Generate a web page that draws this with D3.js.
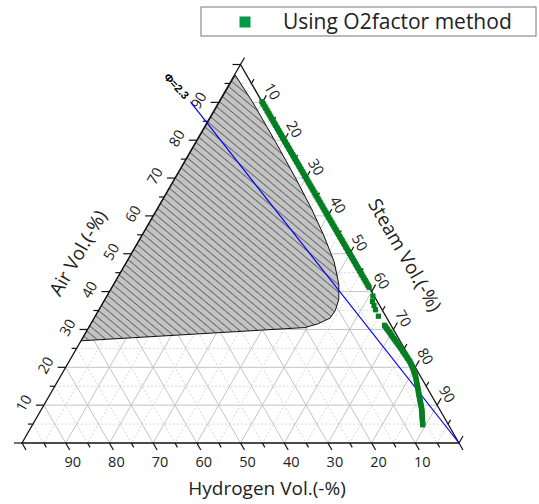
<!DOCTYPE html>
<html>
<head>
<meta charset="utf-8">
<script src="https://cdn.jsdelivr.net/npm/d3@7"></script>
<style>
  body { margin: 0; background: #fff; }
  text { font-family: "Open Sans", sans-serif; fill: #222; }
</style>
</head>
<body>
<div id="chart"></div>
<script>
// tick labels
const hydrogenLabels = [90, 80, 70, 60, 50, 40, 30, 20, 10]
const airLabels = [10, 20, 30, 40, 50, 60, 70, 80, 90]
const steamLabels = [10, 20, 30, 40, 50, 60, 70, 80, 90]

// flammable region (air %, hydrogen %), rest is steam
const regionAir = [97.2, 90, 80, 70, 62, 55, 48, 42, 38, 35, 33, 31.5, 30.5, 27]
const regionHydrogen = [2.6, 2.2, 2.2, 2.4, 2.8, 3.5, 4.6, 6.5, 8.5, 10.8, 13.0, 16.5, 20, 73]

// phi = 2.3 line (air %, hydrogen %)
const phiAir = [0, 90.1]
const phiHydrogen = [0, 16.4]

// O2factor method points on the air-steam edge (hydrogen 0), steam %
const o2EdgeSteam = [
  9.8, 10.3, 10.7, 11.2, 11.6, 12.1, 12.5, 13.0, 13.4, 13.9, 14.3, 14.8, 15.2, 15.7,
  16.1, 16.6, 17.0, 17.5, 17.9, 18.4, 18.8, 19.3, 19.7, 20.2, 20.6, 21.1, 21.5, 22.0,
  22.4, 22.9, 23.3, 23.8, 24.2, 24.7, 25.1, 25.6, 26.0, 26.5, 26.9, 27.4, 27.8, 28.3,
  28.7, 29.2, 29.6, 30.1, 30.5, 31.0, 31.4, 31.9, 32.3, 32.8, 33.2, 33.7, 34.1, 34.6,
  35.0, 35.5, 35.9, 36.4, 36.8, 37.3, 37.7, 38.2, 38.6, 39.1, 39.5, 40.0, 40.4, 40.9,
  41.3, 41.8, 42.2, 42.7, 43.1, 43.6, 44.0, 44.5, 44.9, 45.4, 45.8, 46.3, 46.7, 47.2,
  47.6, 48.1, 48.5, 49.0, 49.4, 49.9, 50.3, 50.8, 51.2, 51.7, 52.1, 52.6, 53.0, 53.5,
  53.9, 54.4, 54.8, 55.3, 55.7, 56.2, 56.6, 57.1, 57.5, 58.0, 58.4, 58.9
]

// O2factor method points inside the triangle (steam %, hydrogen %)
const o2InnerSteam = [
  60.9, 61.5, 62.4, 63.3, 64.8,
  67.4, 67.8, 68.3, 68.7, 69.2, 69.6, 70.0, 70.4, 70.8, 71.3, 71.7, 72.2, 72.6, 73.1,
  73.5, 74.0, 74.4, 74.9, 75.3, 75.8, 76.2, 76.7, 77.1, 77.6, 78.0, 78.4, 78.8, 79.2,
  79.6, 80.0, 80.4, 80.8, 81.1, 81.5, 81.8, 82.2, 82.5, 82.9, 83.2, 83.6, 83.9, 84.2,
  84.5, 84.8, 85.1, 85.4, 85.7, 86.0, 86.3, 86.6, 86.9, 87.2, 87.4, 87.7, 87.9, 88.2,
  88.4, 88.7, 88.9, 89.1, 89.3
]
const o2InnerHydrogen = [
  0.3, 1.1, 1.3, 1.5, 1.7,
  1.5, 1.45, 1.4, 1.35, 1.3, 1.25, 1.2, 1.17, 1.15, 1.1, 1.05, 1.0, 0.95, 0.9,
  0.85, 0.8, 0.75, 0.72, 0.7, 0.65, 0.6, 0.58, 0.55, 0.52, 0.5, 0.52, 0.55, 0.62,
  0.7, 0.8, 0.9, 1.0, 1.1, 1.25, 1.4, 1.6, 1.8, 1.95, 2.1, 2.3, 2.5, 2.65,
  2.8, 2.95, 3.1, 3.25, 3.4, 3.55, 3.7, 3.85, 4.0, 4.2, 4.4, 4.6, 4.8, 5.0,
  5.2, 5.4, 5.6, 5.75, 5.9
]

const dimensions = {
  width: 539,
  height: 504,
  left: 22,
  right: 459,
  bottom: 443,
  top: 64.5
}

const svg = d3.select('#chart')
  .append('svg')
  .attr('width', dimensions.width)
  .attr('height', dimensions.height)

// x runs along the bottom edge, y is the air fraction
const xScale = d3.scaleLinear().domain([0, 100]).range([dimensions.left, dimensions.right])
const yScale = d3.scaleLinear().domain([0, 100]).range([dimensions.bottom, dimensions.top])

// ternary (air, steam) -> pixel
const pt = (air, steam) => [xScale(steam + air / 2), yScale(air)]

//hatch pattern
const defs = svg.append('defs')
const pattern = defs.append('pattern')
  .attr('id', 'hatch')
  .attr('patternUnits', 'userSpaceOnUse')
  .attr('width', 20)
  .attr('height', 5.8)
  .attr('patternTransform', 'rotate(40)')
pattern.append('rect').attr('width', 20).attr('height', 5.8).attr('fill', '#c3c3c3')
pattern.append('line')
  .attr('x1', 0).attr('x2', 20).attr('y1', 0.5).attr('y2', 0.5)
  .attr('stroke', '#4a4a4a').attr('stroke-width', 0.75)

//grid
const gridGroup = svg.append('g')
const gridVals = d3.range(5, 100, 5)
const gridLines = []
gridVals.forEach(v => {
  gridLines.push({ v, a: pt(v, 0), b: pt(v, 100 - v) })           // air
  gridLines.push({ v, a: pt(100 - v, 0), b: pt(0, 100 - v) })     // hydrogen
  gridLines.push({ v, a: pt(100 - v, v), b: pt(0, v) })           // steam
})
gridGroup.selectAll('line')
  .data(gridLines)
  .join('line')
  .attr('x1', d => d.a[0]).attr('y1', d => d.a[1])
  .attr('x2', d => d.b[0]).attr('y2', d => d.b[1])
  .attr('stroke', d => d.v % 10 === 0 ? '#c4c4c4' : '#d6d6d6')
  .attr('stroke-width', 1)
  .attr('stroke-dasharray', d => d.v % 10 === 0 ? null : '2,2')

//flammable region
const regionPts = regionAir.map((a, i) => pt(a, 100 - a - regionHydrogen[i]))
svg.append('path')
  .attr('d', d3.line()(regionPts) + 'Z')
  .attr('fill', 'url(#hatch)')
  .attr('stroke', '#111')
  .attr('stroke-width', 1)

//triangle frame
const frame = [pt(0, 0), pt(100, 0), pt(0, 100)]
svg.append('path')
  .attr('d', d3.line()(frame) + 'Z')
  .attr('fill', 'none')
  .attr('stroke', '#111')
  .attr('stroke-width', 1.3)

//ticks
const tickVals = d3.range(0, 101, 5)
const axes = [
  { pos: v => pt(0, 100 - v), dir: [0.5, 0.866], labels: hydrogenLabels, off: [7, 19], rot: 0 },
  { pos: v => pt(v, 0), dir: [-1, 0], labels: airLabels, off: [-20, -2], rot: -60 },
  { pos: v => pt(100 - v, v), dir: [0.5, -0.866], labels: steamLabels, off: [10, -11], rot: 60 }
]
axes.forEach(ax => {
  const g = svg.append('g')
  g.selectAll('line')
    .data(tickVals)
    .join('line')
    .attr('x1', v => ax.pos(v)[0])
    .attr('y1', v => ax.pos(v)[1])
    .attr('x2', v => ax.pos(v)[0] + ax.dir[0] * (v % 10 === 0 ? 8 : 5))
    .attr('y2', v => ax.pos(v)[1] + ax.dir[1] * (v % 10 === 0 ? 8 : 5))
    .attr('stroke', '#111')
    .attr('stroke-width', 1.2)
  g.selectAll('text')
    .data(ax.labels)
    .join('text')
    .attr('transform', v => {
      const p = ax.pos(v)
      return `translate(${p[0] + ax.off[0]},${p[1] + ax.off[1]}) rotate(${ax.rot})`
    })
    .attr('text-anchor', 'middle')
    .attr('dy', '0.35em')
    .style('font-size', '14.5px')
    .text(d => d)
})

//phi line
const phiPts = phiAir.map((a, i) => pt(a, 100 - a - phiHydrogen[i]))
svg.append('path')
  .attr('d', d3.line()(phiPts))
  .attr('stroke', '#0000ff')
  .attr('stroke-width', 1.2)
  .attr('fill', 'none')

svg.append('text')
  .attr('transform', 'translate(176.5,86) rotate(47)')
  .attr('text-anchor', 'middle')
  .attr('dy', '0.35em')
  .style('font-size', '11px')
  .style('font-weight', 'bold')
  .style('font-family', 'Arial, "Liberation Sans", sans-serif')
  .style('fill', '#000')
  .text('Φ=2.3')

//data points
const green = '#067f22'
const o2Data = o2EdgeSteam.map(s => pt(100 - s, s))
  .concat(o2InnerSteam.map((s, i) => pt(100 - s - o2InnerHydrogen[i], s)))
svg.append('g')
  .selectAll('rect')
  .data(o2Data)
  .join('rect')
  .attr('x', d => d[0] - 2.6)
  .attr('y', d => d[1] - 2.6)
  .attr('width', 5.2)
  .attr('height', 5.2)
  .attr('fill', green)

//axis titles
svg.append('text')
  .attr('x', 267).attr('y', 495)
  .attr('text-anchor', 'middle')
  .style('font-size', '19px')
  .text('Hydrogen Vol.(-%)')

svg.append('text')
  .attr('transform', 'translate(78,253) rotate(-60)')
  .attr('text-anchor', 'middle')
  .attr('dy', '0.35em')
  .style('font-size', '19px')
  .text('Air Vol.(-%)')

svg.append('text')
  .attr('transform', 'translate(405,255) rotate(60)')
  .attr('text-anchor', 'middle')
  .attr('dy', '0.35em')
  .style('font-size', '19px')
  .text('Steam Vol.(-%)')

//legend
const legend = svg.append('g')
legend.append('rect')
  .attr('x', 201).attr('y', 7)
  .attr('width', 335).attr('height', 29)
  .attr('fill', '#fff')
  .attr('stroke', '#777')
  .attr('stroke-width', 1)
legend.append('rect')
  .attr('x', 239.5).attr('y', 16.5)
  .attr('width', 11).attr('height', 11)
  .attr('fill', '#00994a')
legend.append('text')
  .attr('x', 283).attr('y', 28.5)
  .style('font-size', '21px')
  .text('Using O2factor method')
</script>
</body>
</html>
